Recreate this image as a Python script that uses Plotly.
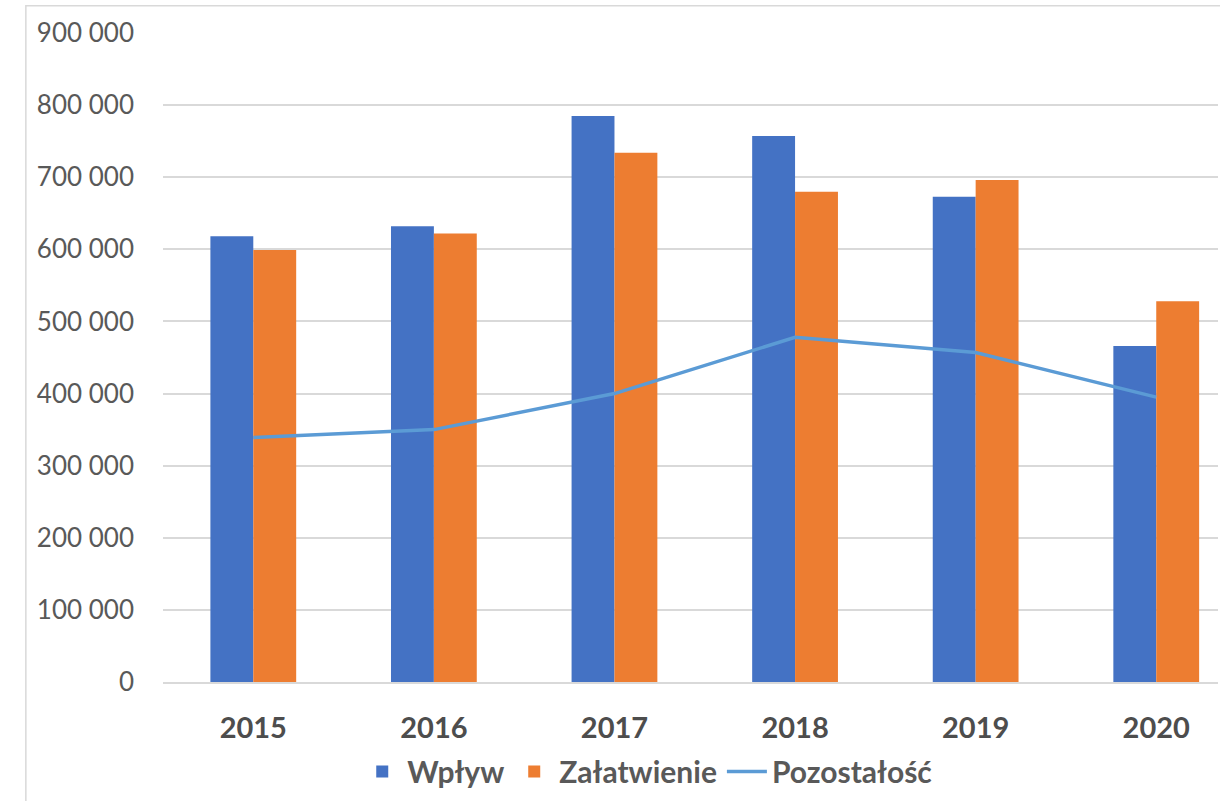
import plotly.graph_objects as go

years = ["2015", "2016", "2017", "2018", "2019", "2020"]
wplyw = [618000, 632000, 785000, 757000, 673000, 466000]
zalatwienie = [599000, 622000, 734000, 680000, 696000, 528000]
pozostalosc = [339000, 350000, 400000, 478000, 457000, 395000]

y_ticks = [0, 100000, 200000, 300000, 400000, 500000, 600000, 700000, 800000, 900000]

FONT = "Lato"

fig = go.Figure()
fig.add_trace(go.Bar(name="Wpływ", x=years, y=wplyw, marker=dict(color="#4472C4", line=dict(width=0))))
fig.add_trace(go.Bar(name="Załatwienie", x=years, y=zalatwienie, marker=dict(color="#ED7D31", line=dict(width=0))))
fig.add_trace(go.Scatter(name="Pozostałość", x=years, y=pozostalosc, mode="lines",
                         line=dict(color="#5B9BD5", width=3.5)))

fig.update_layout(
    width=1220, height=801,
    margin=dict(l=163, r=2, t=33, b=119),
    paper_bgcolor="white", plot_bgcolor="white",
    separators=", ",
    barmode="group", bargap=0.525, bargroupgap=0,
    font=dict(family=FONT, color="#595959"),
    legend=dict(orientation="h", x=0.459, xanchor="center", y=-0.138, yanchor="middle",
                font=dict(family=FONT, size=30, color="#595959", weight="bold"),
                traceorder="normal", itemwidth=40),
    shapes=[dict(type="rect", xref="paper", yref="paper", x0=-0.1300, x1=1.2, y0=-0.4, y1=1.042,
                 line=dict(color="#d9d9d9", width=1.5), fillcolor="rgba(0,0,0,0)", layer="below")],
)
fig.update_yaxes(range=[0, 900000], tickvals=y_ticks, tickformat=",d",
                 showgrid=True, gridcolor="#d9d9d9", gridwidth=1.5, zeroline=False, showline=False,
                 tickfont=dict(family=FONT, size=26, color="#595959"), ticklabelstandoff=28)
fig.update_xaxes(type="category", range=[-0.5, 5.342], showgrid=False, showline=True,
                 linecolor="#d9d9d9", linewidth=1.5,
                 tickfont=dict(family=FONT, size=29, color="#4d4d4d", weight="bold"),
                 ticklabelstandoff=19)

fig.write_html("out.html", config={"displayModeBar": False},
               post_script="document.body.style.margin='0';")
